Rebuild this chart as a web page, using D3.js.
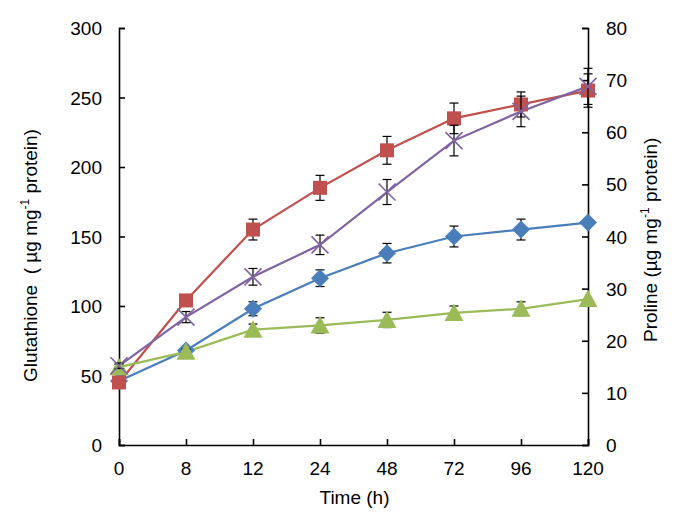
<!DOCTYPE html>
<html><head><meta charset="utf-8">
<script src="https://cdn.jsdelivr.net/npm/d3@7"></script>
<style>body{margin:0;background:#fff}text{font-family:"Liberation Sans",Arial,sans-serif;fill:#000;white-space:pre}</style>
</head><body><svg id="c" width="685" height="525"></svg>
<script>
const times = ["0","8","12","24","48","72","96","120"];
const leftTicks = [0,50,100,150,200,250,300];
const rightTicks = [0,10,20,30,40,50,60,70,80];
const blueVals   = [46, 68, 98, 120, 138, 150, 155, 160];
const blueErr    = [2, 2, 5, 6, 7, 7.5, 7.5, 0];
const redVals    = [45, 104, 155, 185, 212, 235, 245, 255];
const redErr     = [2, 4, 7.5, 9, 10, 11, 9, 12];
const greenVals  = [56, 67, 83, 86, 90, 95, 98, 105];
const greenErr   = [2, 2, 4, 5.5, 5.5, 5, 5, 0];
const purpleVals = [57, 92, 121, 144, 182, 219, 240, 258];
const purpleErr  = [2, 4, 6, 7, 9, 11, 11, 13];

const svg = d3.select("#c");
const L = 119, R = 588, T = 28, B = 445;
const FS = 19;
const x = d3.scalePoint().domain(times).range([L, R]).padding(0);
const y = d3.scaleLinear().domain([0,300]).range([B, T]);
const y2 = d3.scaleLinear().domain([0,80]).range([B, T]);

const gl = svg.append("g").attr("transform",`translate(${L},0)`)
  .call(d3.axisRight(y).tickValues(leftTicks).tickSize(6));
gl.selectAll("text").remove();
svg.append("g").selectAll("text").data(leftTicks).join("text")
  .attr("x", 102).attr("y", d=>y(d)+7).attr("text-anchor","end").attr("font-size",FS).text(d=>d);

const gr = svg.append("g").attr("transform",`translate(${R},0)`)
  .call(d3.axisLeft(y2).tickValues(rightTicks).tickSize(6));
gr.selectAll("text").remove();
svg.append("g").selectAll("text").data(rightTicks).join("text")
  .attr("x", 606).attr("y", d=>y2(d)+7).attr("text-anchor","start").attr("font-size",FS).text(d=>d);

const gb = svg.append("g").attr("transform",`translate(0,${B})`)
  .call(d3.axisTop(x).tickSize(6));
gb.selectAll("text").remove();
svg.append("g").selectAll("text").data(times).join("text")
  .attr("x", d=>x(d)).attr("y", 475).attr("text-anchor","middle").attr("font-size",FS).text(d=>d);

[gl,gr,gb].forEach(g=>{g.selectAll("path,line").attr("stroke","#000").attr("stroke-width",1.6);});

svg.append("text").attr("x",(L+R)/2 + 1).attr("y",504).attr("text-anchor","middle").attr("font-size",FS).text("Time (h)");

const lt = svg.append("text").attr("transform",`translate(37,382) rotate(-90)`).attr("text-anchor","start").attr("font-size",FS);
lt.append("tspan").text("Glutathione  ( µg mg");
lt.append("tspan").attr("font-size",12).attr("dy",-8).text("-1");
lt.append("tspan").attr("dy",8).text(" protein)");

const rt = svg.append("text").attr("transform",`translate(657,342) rotate(-90)`).attr("text-anchor","start").attr("font-size",FS);
rt.append("tspan").text("Proline (µg mg");
rt.append("tspan").attr("font-size",12).attr("dy",-8).text("-1");
rt.append("tspan").attr("dy",8).text(" protein)");

const series = [
  {vals: blueVals, err: blueErr, color:"#4A7EBB", marker:"diamond"},
  {vals: redVals, err: redErr, color:"#C0504D", marker:"square"},
  {vals: greenVals, err: greenErr, color:"#9BBB59", marker:"triangle"},
  {vals: purpleVals, err: purpleErr, color:"#8064A2", marker:"x"}
];
const line = d3.line().x((d,i)=>x(times[i])).y(d=>y(d));
series.forEach(s=>{
  svg.append("path").datum(s.vals).attr("d",line).attr("fill","none").attr("stroke",s.color).attr("stroke-width",2.2);
});
series.forEach(s=>{
  const eg = svg.append("g").attr("stroke","#000").attr("stroke-width",1.2);
  s.vals.forEach((v,i)=>{
    const e = s.err[i]; if (!e) return;
    const cx = x(times[i]);
    const y1 = y(v+e), y0 = y(v-e);
    eg.append("line").attr("x1",cx).attr("x2",cx).attr("y1",y1).attr("y2",y0);
    eg.append("line").attr("x1",cx-4.5).attr("x2",cx+4.5).attr("y1",y1).attr("y2",y1);
    eg.append("line").attr("x1",cx-4.5).attr("x2",cx+4.5).attr("y1",y0).attr("y2",y0);
  });
  const g = svg.append("g");
  s.vals.forEach((v,i)=>{
    const cx = x(times[i]), cy = y(v);
    if (s.marker==="diamond") g.append("path").attr("d",`M${cx},${cy-9}L${cx+9},${cy}L${cx},${cy+9}L${cx-9},${cy}Z`).attr("fill",s.color);
    if (s.marker==="square") g.append("rect").attr("x",cx-7).attr("y",cy-7).attr("width",14).attr("height",14).attr("fill",s.color);
    if (s.marker==="triangle") g.append("path").attr("d",`M${cx},${cy-9.5}L${cx+9.5},${cy+8}L${cx-9.5},${cy+8}Z`).attr("fill",s.color);
    if (s.marker==="x") g.append("path").attr("d",`M${cx-8.5},${cy-8.5}L${cx+8.5},${cy+8.5}M${cx+8.5},${cy-8.5}L${cx-8.5},${cy+8.5}`).attr("stroke",s.color).attr("stroke-width",1.6);
  });
});
</script></body></html>
